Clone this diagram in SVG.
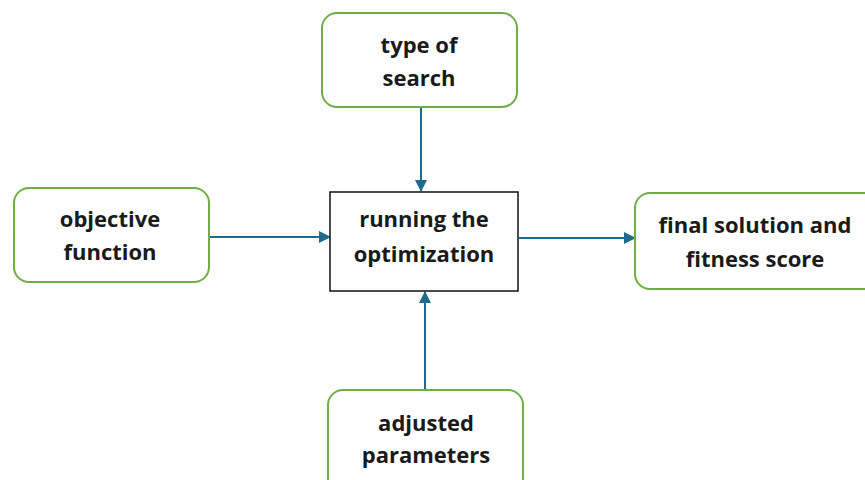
<svg xmlns="http://www.w3.org/2000/svg" width="865" height="480" viewBox="0 0 865 480">
<defs>
<style>
.g{fill:#fff;stroke:#70AD47;stroke-width:2}
.c{fill:#fff;stroke:#111;stroke-width:1.5}
.t{font-family:"Open Sans","Liberation Sans",sans-serif;font-weight:bold;font-size:22px;fill:#1a1a1a;text-anchor:middle}
.a{stroke:#1F6B8E;stroke-width:2;fill:none;marker-end:url(#ah)}
</style>
<marker id="ah" markerWidth="12" markerHeight="12" refX="11" refY="6" orient="auto" markerUnits="userSpaceOnUse">
<path d="M0,0 L12,6 L0,12 Z" fill="#1F6B8E"/>
</marker>
</defs>
<rect width="865" height="480" fill="#fff"/>
<g id="connectors">
<line class="a" x1="421" y1="107" x2="421" y2="191"/>
<line class="a" x1="209" y1="237" x2="330" y2="237"/>
<line class="a" x1="519" y1="238" x2="635" y2="238"/>
<line class="a" x1="425" y1="390" x2="425" y2="292"/>
</g>
<g id="type-of-search">
<rect class="g" x="322" y="13" width="195" height="94" rx="15"/>
<text class="t" x="419" y="53">type of</text>
<text class="t" x="419" y="86">search</text>
</g>
<g id="objective-function">
<rect class="g" x="14" y="188" width="195" height="94" rx="15"/>
<text class="t" x="110" y="227">objective</text>
<text class="t" x="110" y="260">function</text>
</g>
<g id="running-optimization">
<rect class="c" x="330" y="192" width="188" height="99"/>
<text class="t" x="424" y="227">running the</text>
<text class="t" x="424" y="262">optimization</text>
</g>
<g id="final-solution">
<rect class="g" x="635" y="193" width="245" height="96" rx="15"/>
<text class="t" x="755" y="233">final solution and</text>
<text class="t" x="755" y="267">fitness score</text>
</g>
<g id="adjusted-parameters">
<rect class="g" x="328" y="390" width="195" height="110" rx="15"/>
<text class="t" x="426" y="431">adjusted</text>
<text class="t" x="426" y="463">parameters</text>
</g>
</svg>
